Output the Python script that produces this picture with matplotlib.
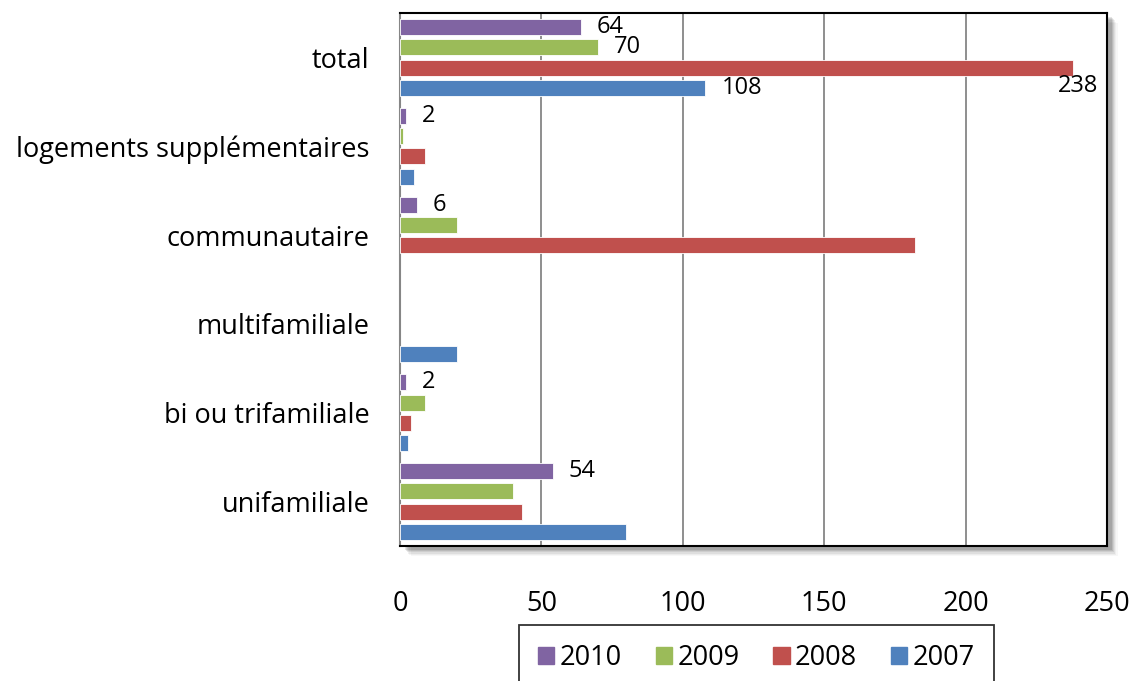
import numpy as np
import matplotlib
matplotlib.use("Agg")
import matplotlib.pyplot as plt
from matplotlib.patches import Rectangle

plt.rcParams['font.family'] = ['Open Sans', 'DejaVu Sans']

# Data (bottom to top)
categories = ["unifamiliale", "bi ou trifamiliale", "multifamiliale",
              "communautaire", "logements supplémentaires", "total"]
years = ["2010", "2009", "2008", "2007"]
v2010 = [54, 2, 0, 6, 2, 64]
v2009 = [40, 9, 0, 20, 1, 70]
v2008 = [43, 4, 0, 182, 9, 238]
v2007 = [80, 3, 20, 0, 5, 108]
series = [v2010, v2009, v2008, v2007]
colors = ["#8064A2", "#9BBB59", "#C0504D", "#4F81BD"]

# which bars carry a value label: (series index, category index)
labelled = [(0, 0), (0, 1), (0, 3), (0, 4), (0, 5), (1, 5), (3, 5)]

fig = plt.figure(figsize=(11.35, 6.81), dpi=100)
ax = fig.add_axes([0.3524, 0.1982, 0.6229, 0.7828])

# Excel-like soft shadow behind the plot area
for k, a in zip(range(1, 7), [0.10, 0.09, 0.08, 0.06, 0.04, 0.03]):
    dx = k * 1.2 / 1135
    dy = k * 1.2 / 681
    fig.patches.append(Rectangle((0.3524 + dx + 0.003, 0.1982 - dy - 0.004),
                                 0.6229, 0.7828, transform=fig.transFigure,
                                 facecolor="black", alpha=a, edgecolor="none",
                                 zorder=-1))

y = np.arange(len(categories))
step = 0.2286
h = 0.18
offsets = [1.5 * step, 0.5 * step, -0.5 * step, -1.5 * step]

for vals, col, off, yr in zip(series, colors, offsets, years):
    vals = np.array(vals, dtype=float)
    keep = vals > 0
    ax.barh((y + off)[keep], vals[keep], height=h, color=col,
            edgecolor="white", linewidth=0.6, label=yr, zorder=3)

for si, ci in labelled:
    val = series[si][ci]
    ax.annotate(str(val), (val, y[ci] + offsets[si]), xytext=(11.5, 0),
                textcoords="offset points", ha="left", va="center",
                fontsize=17)

# 2008 total label overflows, sits below the bar end
ax.annotate(str(v2008[5]), (v2008[5], y[5] + offsets[2]), xytext=(18.5, -13),
            textcoords="offset points", ha="right", va="center", fontsize=17)

ax.set_xlim(0, 250)
ax.set_ylim(-0.5, 5.5)
ax.set_xticks([0, 50, 100, 150, 200, 250])
ax.set_yticks(y)
ax.set_yticklabels(categories)
ax.tick_params(axis="x", length=0, pad=32, labelsize=19.5)
ax.tick_params(axis="y", length=0, pad=22, labelsize=19.5)
ax.xaxis.grid(True, color="#868686", linewidth=1.3, zorder=0)
ax.set_axisbelow(True)
for s in ax.spines.values():
    s.set_color("black")
    s.set_linewidth(1.5)
ax.spines["left"].set_color("#868686")

handles = [Rectangle((0, 0), 1, 1, color=c) for c in colors]
leg = fig.legend(handles, years, loc="upper center",
                 bbox_to_anchor=(0.6665, 0.0822), ncol=4, frameon=True,
                 fancybox=False, fontsize=19.5, handlelength=0.6,
                 handleheight=0.6, handletextpad=0.2, columnspacing=1.25,
                 borderpad=0.7, borderaxespad=0)
leg.get_frame().set_edgecolor("black")
leg.get_frame().set_linewidth(1.3)

fig.savefig("out.png", dpi=100)
